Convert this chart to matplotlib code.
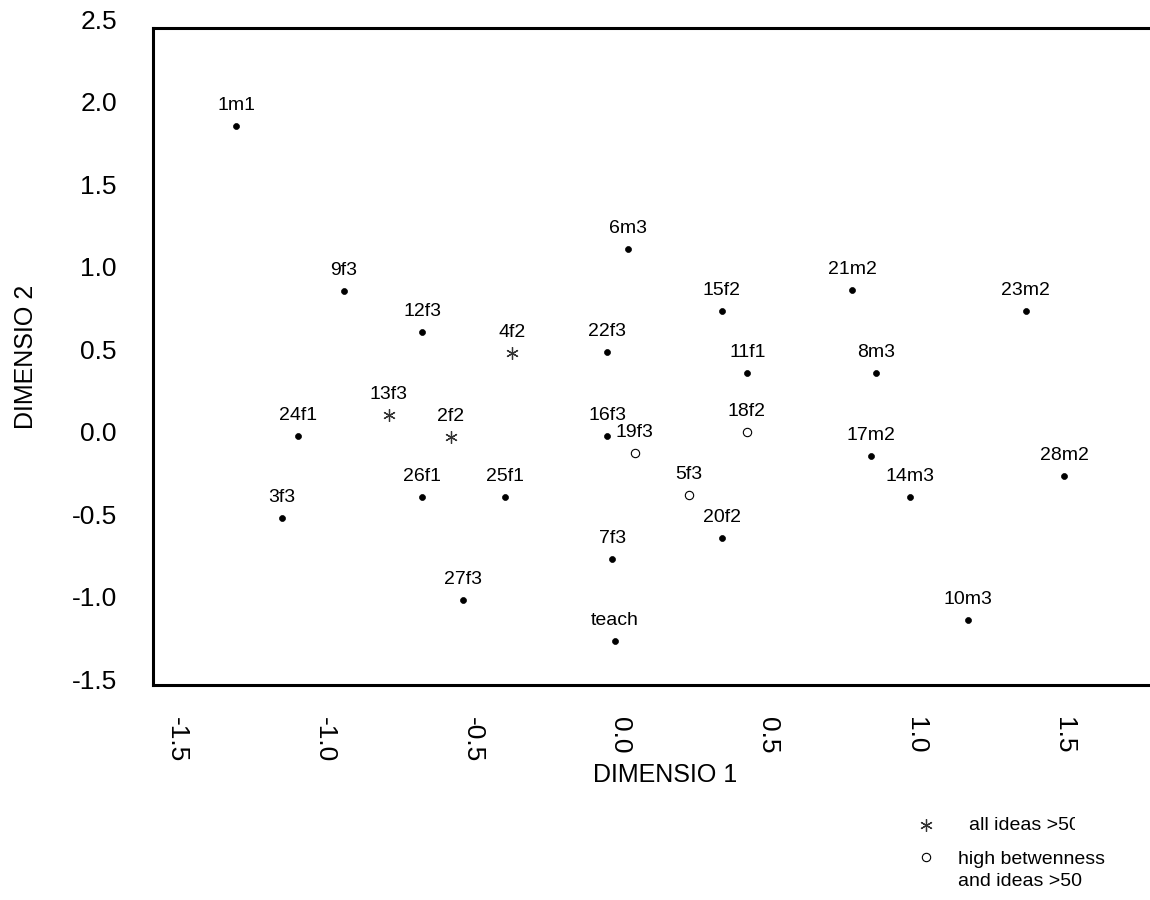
import matplotlib.pyplot as plt
from matplotlib.lines import Line2D
from matplotlib.transforms import Bbox

plt.rcParams["font.family"] = ["Liberation Sans", "DejaVu Sans"]

# point labels and coordinates
names = [
    "1m1", "9f3", "12f3", "4f2", "22f3", "6m3", "13f3", "2f2",
    "24f1", "16f3", "19f3", "26f1", "25f1", "3f3", "7f3", "27f3",
    "teach", "15f2", "21m2", "23m2", "11f1", "8m3", "18f2", "17m2",
    "28m2", "5f3", "14m3", "20f2", "10m3",
]
dim1 = [
    -1.298, -0.934, -0.670, -0.365, -0.044, 0.027, -0.783, -0.574,
    -1.090, -0.044, 0.048, -0.670, -0.391, -1.144, -0.027, -0.531,
    -0.019, 0.342, 0.783, 1.370, 0.429, 0.863, 0.427, 0.847,
    1.500, 0.232, 0.979, 0.342, 1.174,
]
dim2 = [
    1.856, 0.856, 0.604, 0.477, 0.483, 1.107, 0.103, -0.028,
    -0.022, -0.022, -0.129, -0.396, -0.396, -0.523, -0.772, -1.018,
    -1.269, 0.733, 0.859, 0.733, 0.356, 0.356, -0.002, -0.145,
    -0.268, -0.380, -0.396, -0.644, -1.139,
]
# dot = ordinary, star = all ideas >50, open = high betweenness and ideas >50
kinds = [
    "dot", "dot", "dot", "star", "dot", "dot", "star", "star",
    "dot", "dot", "open", "dot", "dot", "dot", "dot", "dot",
    "dot", "dot", "dot", "dot", "dot", "dot", "open", "dot",
    "dot", "open", "dot", "dot", "dot",
]

x_ticks = [-1.5, -1.0, -0.5, 0.0, 0.5, 1.0, 1.5]
y_ticks = [-1.5, -1.0, -0.5, 0.0, 0.5, 1.0, 1.5, 2.0]

legend_labels = ["all ideas >50", "high betwenness\nand ideas >50"]

marker_styles = {
    "dot": dict(marker="o", markersize=4.3, markerfacecolor="black",
                markeredgecolor="black", markeredgewidth=0.5),
    "star": dict(marker=(6, 2, 0), markersize=9, markerfacecolor="none",
                 markeredgecolor="#333333", markeredgewidth=0.9),
    "open": dict(marker="o", markersize=6, markerfacecolor="white",
                 markeredgecolor="black", markeredgewidth=0.8),
}

fig = plt.figure(figsize=(11.5, 9), dpi=100)
ax = fig.add_axes([0.133, 0.2389, 0.867, 0.73])

for kind in ["dot", "star", "open"]:
    xs = [dim1[i] for i in range(len(names)) if kinds[i] == kind]
    ys = [dim2[i] for i in range(len(names)) if kinds[i] == kind]
    ax.plot(xs, ys, linestyle="none", **marker_styles[kind])

for name, x, y in zip(names, dim1, dim2):
    ax.annotate(
        name,
        xy=(x, y),
        xytext=(0, 16),
        textcoords="offset pixels",
        ha="center",
        va="baseline",
        fontsize=14,
    )

ax.set_xlim(-1.5796, 1.79)
ax.set_ylim(-1.5333, 2.4485)

ax.set_xticks(x_ticks)
ax.set_xticklabels(
    [f"{v:.1f}" for v in x_ticks],
    rotation=-90,
    fontsize=19
)
ax.set_yticks(y_ticks)
ax.set_yticklabels(
    [f"{v:.1f}" for v in y_ticks],
    fontsize=19
)
ax.tick_params(axis="x", length=0, pad=23)
ax.tick_params(axis="y", length=0, pad=26)

# top label sits above the frame
ax.annotate(
    "2.5",
    xy=(0, 2.5),
    xycoords=ax.get_yaxis_transform(),
    xytext=(-26, 0),
    textcoords="offset points",
    ha="right",
    va="center_baseline",
    fontsize=19,
    annotation_clip=False,
)

for side in ["left", "top", "bottom"]:
    ax.spines[side].set_linewidth(2.2)
ax.spines["right"].set_visible(False)

ax.set_ylabel("DIMENSIO 2", fontsize=18, labelpad=24)
fig.text(665 / 1150, 1 - 775 / 900, "DIMENSIO 1",
         ha="center", va="center", fontsize=18)

# legend drawn below the plot
fig.add_artist(Line2D([926 / 1150], [1 - 825 / 900], transform=fig.transFigure,
                      linestyle="none", **marker_styles["star"]))
fig.add_artist(Line2D([926 / 1150], [1 - 857 / 900], transform=fig.transFigure,
                      linestyle="none", **marker_styles["open"]))
first = fig.text(969 / 1150, 1 - 825 / 900, legend_labels[0],
                 ha="left", va="center", fontsize=14)
# the first legend entry is cut off on the right in the original
first.set_clip_box(Bbox.from_extents(900, 0, 1075, 900))
first.set_clip_on(True)
fig.text(958 / 1150, 1 - 851 / 900, legend_labels[1],
         ha="left", va="top", fontsize=14, linespacing=1.35)

fig.savefig("out.png", dpi=100)
plt.close(fig)
